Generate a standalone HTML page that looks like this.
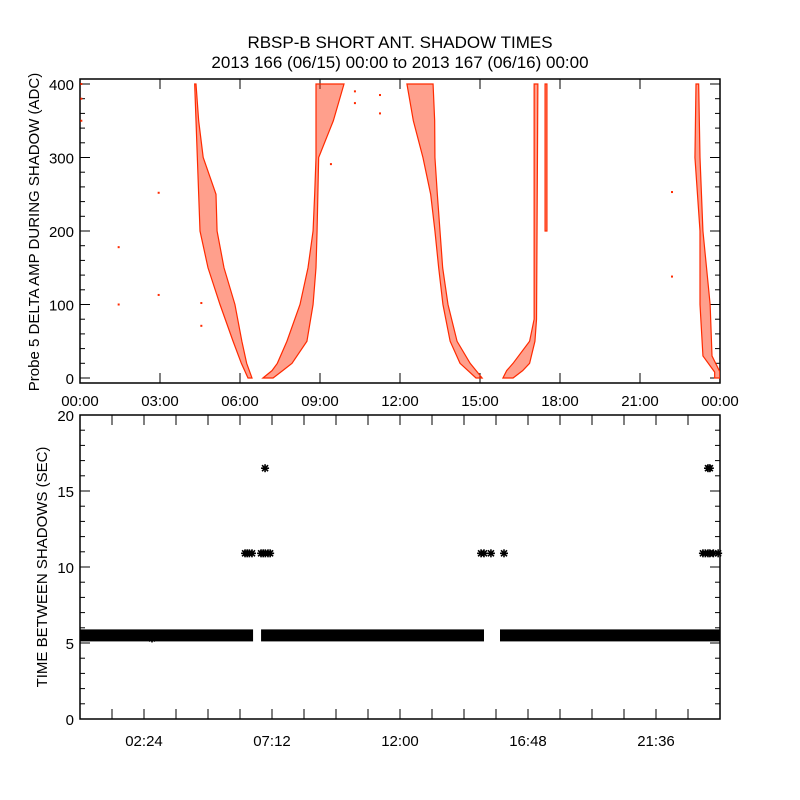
<!DOCTYPE html>
<html><head><meta charset="utf-8"><style>
body{margin:0;background:#fff}
svg{display:block}
text{font-family:"Liberation Sans",sans-serif;fill:#000}
</style></head><body>
<svg id="chart" width="800" height="800" viewBox="0 0 800 800">
<rect width="800" height="800" fill="#fff"/>
<text x="400" y="48" font-size="17" text-anchor="middle">RBSP-B SHORT ANT. SHADOW TIMES</text>
<text x="400" y="68" font-size="17" text-anchor="middle">2013 166 (06/15) 00:00 to 2013 167 (06/16) 00:00</text>
<g id="topPanel"></g>
<g id="botPanel"></g>
</svg>
<script>
// ---- top panel data (hours, ADC) ----
const bandAVals=[400,350,300,250,200,150,100,50,20,0];
const bandALeft=[4.30,4.35,4.40,4.45,4.50,4.80,5.25,5.74,6.05,6.30];
const bandARight=[4.35,4.45,4.62,5.10,5.14,5.40,5.81,6.07,6.25,6.45];
const bandBVals=[0,10,20,50,100,150,200,250,300,350,400];
const bandBLeft=[6.86,7.20,7.40,7.76,8.25,8.55,8.74,8.80,8.85,8.85,8.85];
const bandBRight=[7.24,7.60,7.95,8.51,8.74,8.85,8.89,8.92,8.95,9.50,9.90];
const bandCVals=[400,350,300,250,200,150,100,50,20,0];
const bandCLeft=[12.26,12.50,12.86,13.15,13.31,13.45,13.61,13.88,14.25,14.85];
const bandCRight=[13.24,13.30,13.31,13.40,13.50,13.60,13.80,14.14,14.63,15.08];
const bandDVals=[0,10,20,50,80,400];
const bandDLeft=[15.86,16.00,16.24,16.86,17.03,17.03];
const bandDRight=[16.24,16.60,16.86,17.06,17.12,17.17];
const bandEVals=[400,300,200,100,30,8,0];
const bandELeft=[23.10,23.06,23.25,23.25,23.36,23.80,23.80];
const bandERight=[23.20,23.25,23.36,23.63,23.70,24.00,24.00];
const bandFVals=[400,200];
const bandFLeft=[17.44,17.44];
const bandFRight=[17.51,17.51];
const isoHours=[1.45,1.45,2.95,2.95,4.55,4.55,22.2,22.2,10.31,10.31,11.25,11.25,9.41,0.05,0.05,0.05];
const isoVals=[178,100,252,113,102,71,253,138,390,374,385,360,291,400,380,350];
const topYTicks=[0,100,200,300,400];
const topXTickLabels=["00:00","03:00","06:00","09:00","12:00","15:00","18:00","21:00","00:00"];
// ---- bottom panel data ----
const lineSegStart=[0.0,6.79,15.75];
const lineSegEnd=[6.49,15.15,24.0];
const lineSegVal=[5.5,5.5,5.5];
const starHours=[6.19,6.27,6.35,6.45,6.79,6.87,6.95,7.05,7.13,6.94,15.04,15.15,15.41,15.90,23.36,23.45,23.55,23.62,23.75,23.93,23.55,23.62,2.7,1.4];
const starVals=[10.9,10.9,10.9,10.9,10.9,10.9,10.9,10.9,10.9,16.5,10.9,10.9,10.9,10.9,10.9,10.9,10.9,10.9,10.9,10.9,16.5,16.5,5.3,5.5];
const botYTicks=[0,5,10,15,20];
const botXTickHours=[2.4,7.2,12.0,16.8,21.6];
const botXTickLabels=["02:24","07:12","12:00","16:48","21:36"];

const NS="http://www.w3.org/2000/svg";
const L=80,R=720;
const xS=h=>L+h*(R-L)/24;
const yT=v=>378-v*0.735;
const yB=v=>719-v*15.2;
function mk(tag,attrs,parent){const e=document.createElementNS(NS,tag);for(const k in attrs)e.setAttribute(k,attrs[k]);parent.appendChild(e);return e;}
const topG=document.getElementById('topPanel'),botG=document.getElementById('botPanel');

// top frame
let f=mk('rect',{x:L,y:79,width:R-L,height:304,fill:'none',stroke:'#000','stroke-width':1.5},topG);


for(let v=0;v<=400;v+=20){const len=v%100===0?10:5;const y=yT(v);
 mk('line',{x1:L,y1:y,x2:L+len,y2:y,stroke:'#000'},topG);
 mk('line',{x1:R,y1:y,x2:R-len,y2:y,stroke:'#000'},topG);}
topYTicks.forEach(v=>{const t=mk('text',{x:74,y:yT(v)+6,'font-size':15,'text-anchor':'end'},topG);t.textContent=v;
 
 });
topXTickLabels.forEach((s,i)=>{const x=xS(i*3);
 mk('line',{x1:x,y1:383,x2:x,y2:373,stroke:'#000'},topG);
 mk('line',{x1:x,y1:79,x2:x,y2:89,stroke:'#000'},topG);
 const t=mk('text',{x:x,y:406,'font-size':15,'text-anchor':'middle'},topG);t.textContent=s;
 
 });
let yt=mk('text',{x:0,y:0,'font-size':15,'text-anchor':'middle',transform:'translate(39,232) rotate(-90)'},topG);
yt.textContent='Probe 5 DELTA AMP DURING SHADOW (ADC)';



const clip=mk('clipPath',{id:'tc'},topG);mk('rect',{x:L,y:79,width:R-L,height:304},clip);
const marks=mk('g',{'clip-path':'url(#tc)'},topG);
function band(vals,left,right,name){
 const pts=[];for(let i=0;i<vals.length;i++)pts.push(xS(left[i])+','+yT(vals[i]));
 for(let i=vals.length-1;i>=0;i--)pts.push(xS(right[i])+','+yT(vals[i]));
 const p=mk('polygon',{points:pts.join(' '),fill:'#ff2a00','fill-opacity':0.45,stroke:'#ff2a00','stroke-width':1.2},marks);
 
 }
band(bandAVals,bandALeft,bandARight,'amp-band-04h');
band(bandBVals,bandBLeft,bandBRight,'amp-band-08h');
band(bandCVals,bandCLeft,bandCRight,'amp-band-13h');
band(bandDVals,bandDLeft,bandDRight,'amp-band-16h');
band(bandEVals,bandELeft,bandERight,'amp-band-23h');
band(bandFVals,bandFLeft,bandFRight,'amp-band-17h');
isoHours.forEach((h,i)=>{const r=mk('rect',{x:xS(h)-1,y:yT(isoVals[i])-1,width:2,height:2,fill:'#ff2a00'},marks);
 
 });

// bottom frame
f=mk('rect',{x:L,y:415,width:R-L,height:304,fill:'none',stroke:'#000','stroke-width':1.5},botG);


for(let v=0;v<=20;v++){const len=v%5===0?10:5;const y=yB(v);
 mk('line',{x1:L,y1:y,x2:L+len,y2:y,stroke:'#000'},botG);
 mk('line',{x1:R,y1:y,x2:R-len,y2:y,stroke:'#000'},botG);}
botYTicks.forEach(v=>{const t=mk('text',{x:74,y:yB(v)+6,'font-size':15,'text-anchor':'end'},botG);t.textContent=v;
 
 });
for(let h=1.2;h<24;h+=1.2){const x=xS(h);
 mk('line',{x1:x,y1:719,x2:x,y2:709,stroke:'#000'},botG);
 mk('line',{x1:x,y1:415,x2:x,y2:425,stroke:'#000'},botG);}
botXTickLabels.forEach((s,i)=>{const t=mk('text',{x:xS(botXTickHours[i]),y:746,'font-size':15,'text-anchor':'middle'},botG);t.textContent=s;
 
 });
yt=mk('text',{x:0,y:0,'font-size':15,'text-anchor':'middle',transform:'translate(47,567) rotate(-90)'},botG);
yt.textContent='TIME BETWEEN SHADOWS (SEC)';



lineSegStart.forEach((s,i)=>{const x1=xS(s),x2=xS(lineSegEnd[i]);const y=yB(lineSegVal[i]);
 const r=mk('rect',{x:x1,y:y-6,width:x2-x1,height:12,fill:'#000'},botG);
 
 });
function star(cx,cy){const g=mk('g',{stroke:'#000','stroke-width':1.6},botG);
 
 
 mk('line',{x1:cx-4,y1:cy,x2:cx+4,y2:cy},g);mk('line',{x1:cx,y1:cy-4,x2:cx,y2:cy+4},g);
 mk('line',{x1:cx-3,y1:cy-3,x2:cx+3,y2:cy+3},g);mk('line',{x1:cx-3,y1:cy+3,x2:cx+3,y2:cy-3},g);}
starHours.forEach((h,i)=>star(xS(h),yB(starVals[i])));
</script>
</body></html>
